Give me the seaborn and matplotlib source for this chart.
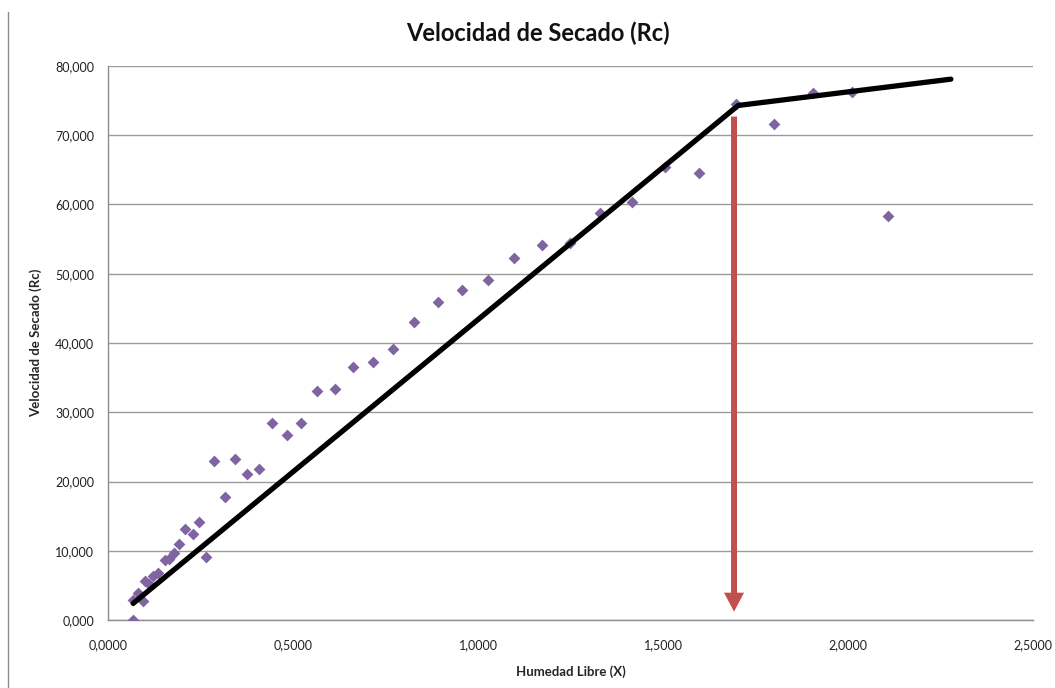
import numpy as np
import pandas as pd
import matplotlib
matplotlib.use("Agg")
import matplotlib.pyplot as plt
from matplotlib.lines import Line2D
from matplotlib.ticker import FuncFormatter, MultipleLocator
import seaborn as sns

# measured points: free moisture X and drying rate Rc
humedad_libre = [0.068, 0.068, 0.080, 0.094, 0.100, 0.112, 0.122, 0.134, 0.154, 0.165,
                 0.178, 0.193, 0.208, 0.229, 0.247, 0.265, 0.287, 0.316, 0.343, 0.376,
                 0.408, 0.442, 0.483, 0.522, 0.566, 0.614, 0.663, 0.715, 0.769, 0.827,
                 0.891, 0.958, 1.026, 1.098, 1.174, 1.249, 1.331, 1.417, 1.505, 1.598,
                 1.696, 1.801, 1.906, 2.012, 2.109]
velocidad = [0.0, 2.9, 3.9, 2.8, 5.7, 5.2, 6.3, 6.8, 8.6, 8.8,
             9.7, 11.0, 13.1, 12.4, 14.2, 9.1, 22.9, 17.7, 23.2, 21.1,
             21.8, 28.4, 26.7, 28.4, 33.1, 33.4, 36.6, 37.2, 39.2, 43.0,
             45.9, 47.7, 49.1, 52.3, 54.1, 54.4, 58.8, 60.4, 65.4, 64.5,
             74.5, 71.6, 76.1, 76.2, 58.4]

# fitted trend (two segments)
ajuste_x = [0.068, 1.703, 2.278]
ajuste_y = [2.4, 74.3, 78.1]

# critical moisture arrow
critico_x = 1.692
flecha_y = [72.7, 1.2]

puntos = pd.DataFrame({"X": humedad_libre, "Rc": velocidad})
ajuste = pd.DataFrame({"X": ajuste_x, "Rc": ajuste_y})

sns.set_style("white")
plt.rcParams["font.family"] = ["Lato", "DejaVu Sans"]

fig = plt.figure(figsize=(10.55, 6.88), dpi=100)
ax = fig.add_axes([108 / 1055, 1 - 620 / 688, 925 / 1055, 554 / 688])

sns.scatterplot(data=puntos, x="X", y="Rc", marker="D", s=36, color="#8064A2",
                linewidth=0, ax=ax, zorder=3)
sns.lineplot(data=ajuste, x="X", y="Rc", color="black", linewidth=3.8,
             solid_capstyle="round", ax=ax, zorder=4)

ax.annotate("", xy=(critico_x, flecha_y[1]), xytext=(critico_x, flecha_y[0]),
            arrowprops=dict(arrowstyle="simple,tail_width=0.43,head_width=1.44,head_length=1.37",
                            mutation_scale=10, color="#C0504D", lw=0,
                            shrinkA=0, shrinkB=0), zorder=5)

ax.set_xlim(0, 2.5)
ax.set_ylim(0, 80)
ax.xaxis.set_major_locator(MultipleLocator(0.5))
ax.yaxis.set_major_locator(MultipleLocator(10))
ax.xaxis.set_major_formatter(FuncFormatter(lambda v, p: f"{v:.4f}".replace(".", ",")))
ax.yaxis.set_major_formatter(FuncFormatter(lambda v, p: f"{v:.3f}".replace(".", ",")))
ax.yaxis.grid(True, color="#9a9a9a", linewidth=1)
ax.xaxis.grid(False)
ax.set_axisbelow(True)

for side in ["top", "right"]:
    ax.spines[side].set_visible(False)
for side in ["left", "bottom"]:
    ax.spines[side].set_color("#8c8c8c")
    ax.spines[side].set_linewidth(1)

ax.tick_params(axis="both", length=0, labelsize=9, labelcolor="#222222")
ax.tick_params(axis="x", pad=14)
ax.tick_params(axis="y", pad=10)

fig.text(538 / 1055, 1 - 33 / 688, "Velocidad de Secado (Rc)", fontsize=17,
         fontweight="bold", ha="center", va="center", color="#111111")
ax.set_xlabel("Humedad Libre (X)", fontsize=9.5, fontweight="bold", labelpad=10)
ax.set_ylabel("Velocidad de Secado (Rc)", fontsize=9.5, fontweight="bold", labelpad=9)

# left border of the chart area
fig.add_artist(Line2D([8 / 1055, 8 / 1055], [0, 1 - 12 / 688], transform=fig.transFigure,
                      color="#8c8c8c", linewidth=1))

fig.savefig("out.png", dpi=100)
